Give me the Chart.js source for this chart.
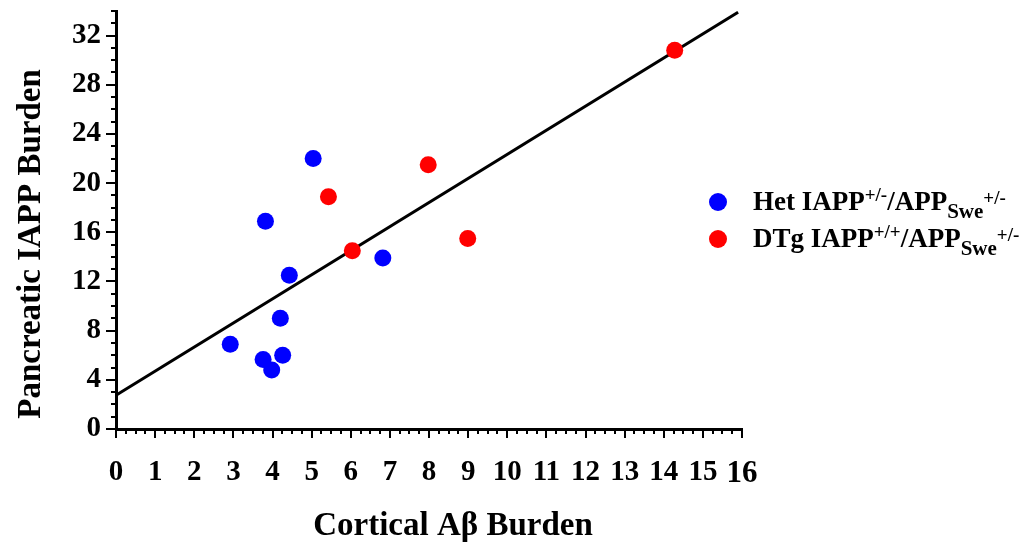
<!DOCTYPE html>
<html>
<head>
<meta charset="utf-8">
<script src="https://cdn.jsdelivr.net/npm/chart.js@4"></script>
<style>
  body { margin: 0; background: #fff; }
  #wrap { position: relative; width: 1026px; height: 544px; }
  #legend { position: absolute; left: 708px; top: 184px; font-family: "Liberation Serif", serif; font-weight: bold; font-size: 27px; color: #000; }
  #legend .row { position: relative; height: 37px; padding-left: 45px; line-height: 34px; white-space: nowrap; }
  #legend .dot { position: absolute; left: 1px; top: 9px; width: 18px; height: 18px; border-radius: 50%; }
  #legend .sup { position: relative; top: -9px; font-size: 19px; }
  #legend .sub { position: relative; top: 8px; font-size: 21px; }
  #legend .sup2 { position: relative; top: -6px; font-size: 19px; }
</style>
</head>
<body>
<div id="wrap">
  <canvas id="myChart"></canvas>
  <div id="legend">
    <div class="row"><span class="dot" style="background:#0000ff"></span>Het IAPP<span class="sup">+/-</span>/APP<span class="sub">Swe</span><span class="sup2">+/-</span></div>
    <div class="row"><span class="dot" style="background:#ff0000"></span>DTg IAPP<span class="sup">+/+</span>/APP<span class="sub">Swe</span><span class="sup2">+/-</span></div>
  </div>
</div>
<script>
// Het IAPP+/-/APPSwe+/- (blue)
var hetX = [5.04, 3.82, 4.43, 6.82, 4.20, 2.92, 3.76, 4.26, 3.98];
var hetY = [22.0, 16.9, 12.5, 13.9, 9.0, 6.9, 5.65, 6.0, 4.8];
// DTg IAPP+/+/APPSwe+/- (red)
var dtgX = [7.98, 5.43, 6.04, 8.99, 14.28];
var dtgY = [21.5, 18.9, 14.5, 15.5, 30.8];
// fitted line
var fitX = [0, 15.9];
var fitY = [2.75, 33.9];

var xTicks = [0,1,2,3,4,5,6,7,8,9,10,11,12,13,14,15,16];
var yTicks = [0,4,8,12,16,20,24,28,32];

var legendNames = ['Het IAPP+/-/APPSwe+/-', 'DTg IAPP+/+/APPSwe+/-'];

function toPoints(xs, ys) {
  return xs.map(function (x, i) { return { x: x, y: ys[i] }; });
}

var FONT = '"Liberation Serif", "Times New Roman", serif';

// minor/major tick marks + axis titles
var axisExtras = {
  id: 'axisExtras',
  afterDraw: function (chart) {
    var c = chart.ctx, xs = chart.scales.x, ys = chart.scales.y;
    c.save();
    c.strokeStyle = '#000';
    c.lineWidth = 2;
    var y0 = ys.getPixelForValue(0);
    for (var v = 0; v <= 16.001; v += 0.25) {
      var px = Math.round(xs.getPixelForValue(v));
      var major = Math.abs(v - Math.round(v)) < 0.01;
      c.beginPath();
      c.moveTo(px, y0);
      c.lineTo(px, y0 + (major ? 9 : 5));
      c.stroke();
    }
    var x0 = xs.getPixelForValue(0);
    for (var w = 0; w <= 34; w++) {
      var py = Math.round(ys.getPixelForValue(w));
      c.beginPath();
      c.moveTo(x0, py);
      c.lineTo(x0 - (w % 4 === 0 ? 10 : 5), py);
      c.stroke();
    }
    c.fillStyle = '#000';
    c.font = 'bold 33px ' + FONT;
    c.textAlign = 'center';
    c.textBaseline = 'alphabetic';
    c.fillText('Cortical A\u03b2 Burden', 453, 535);
    c.translate(40, 244);
    c.rotate(-Math.PI / 2);
    c.fillText('Pancreatic IAPP Burden', 0, 0);
    c.restore();
  }
};

var ctx = document.getElementById('myChart');
var myChart = new Chart(ctx, {
  type: 'scatter',
  data: {
    datasets: [{
      label: legendNames[0],
      data: toPoints(hetX, hetY),
      backgroundColor: '#0000ff',
      borderWidth: 0,
      pointRadius: 8.5,
      pointHoverRadius: 8.5,
      order: 0
    }, {
      label: legendNames[1],
      data: toPoints(dtgX, dtgY),
      backgroundColor: '#ff0000',
      borderWidth: 0,
      pointRadius: 8.5,
      pointHoverRadius: 8.5,
      order: 0
    }, {
      label: 'fit',
      data: toPoints(fitX, fitY),
      showLine: true,
      borderColor: '#000',
      borderWidth: 3,
      pointRadius: 0,
      order: 5
    }]
  },
  options: {
    responsive: true,
    maintainAspectRatio: false,
    animation: false,
    layout: { padding: { left: 0, top: 11, right: 284, bottom: 0 } },
    plugins: {
      legend: { display: false },
      tooltip: { enabled: false }
    },
    scales: {
      x: {
        type: 'linear',
        min: 0,
        max: 16,
        afterBuildTicks: function (s) { s.ticks = xTicks.map(function (v) { return { value: v }; }); },
        afterFit: function (s) { s.height = 115; s.paddingLeft = 0; s.paddingRight = 0; },
        ticks: {
          color: '#000',
          padding: 26,
          maxRotation: 0,
          autoSkip: false,
          font: function (c) { return { family: FONT, weight: 'bold', size: c.tick && c.tick.value === 16 ? 31 : 29 }; }
        },
        grid: { display: true, drawOnChartArea: false, drawTicks: false },
        border: { color: '#000', width: 3 }
      },
      y: {
        type: 'linear',
        min: 0,
        max: 34,
        afterBuildTicks: function (s) { s.ticks = yTicks.map(function (v) { return { value: v }; }); },
        afterFit: function (s) { s.width = 116; s.paddingTop = 0; s.paddingBottom = 0; },
        ticks: {
          color: '#000',
          padding: 15,
          autoSkip: false,
          font: { family: FONT, weight: 'bold', size: 29 }
        },
        grid: { display: true, drawOnChartArea: false, drawTicks: false },
        border: { color: '#000', width: 3 }
      }
    }
  },
  plugins: [axisExtras]
});
</script>
</body>
</html>
